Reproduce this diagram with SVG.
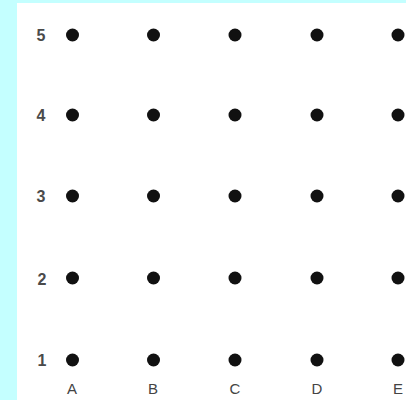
<svg xmlns="http://www.w3.org/2000/svg" width="406" height="400" viewBox="0 0 406 400">
<style>
.dot{fill:#111}
.row{font-family:"Liberation Sans",Arial,sans-serif;font-size:16px;font-weight:bold;fill:#4a4a4a;text-anchor:middle}
.col{font-family:"Liberation Sans",Arial,sans-serif;font-size:15px;fill:#444;text-anchor:middle}
</style>
<rect x="0" y="0" width="406" height="400" fill="#c4ffff"/>
<rect x="17" y="3" width="389" height="397" fill="#ffffff"/>
<g id="rowlabels">
<text class="row" x="41" y="41">5</text>
<text class="row" x="41" y="121">4</text>
<text class="row" x="41" y="202">3</text>
<text class="row" x="42" y="285">2</text>
<text class="row" x="42" y="366">1</text>
</g>
<g id="collabels">
<text class="col" x="72" y="394">A</text>
<text class="col" x="153" y="394">B</text>
<text class="col" x="235" y="394">C</text>
<text class="col" x="317" y="394">D</text>
<text class="col" x="398" y="394">E</text>
</g>
<g id="dots">
<g id="r5"><circle class="dot" cx="72.5" cy="35" r="6.5"/><circle class="dot" cx="153.5" cy="35" r="6.5"/><circle class="dot" cx="235" cy="35" r="6.5"/><circle class="dot" cx="317" cy="35" r="6.5"/><circle class="dot" cx="398" cy="35" r="6.5"/></g>
<g id="r4"><circle class="dot" cx="72.5" cy="115" r="6.5"/><circle class="dot" cx="153.5" cy="115" r="6.5"/><circle class="dot" cx="235" cy="115" r="6.5"/><circle class="dot" cx="317" cy="115" r="6.5"/><circle class="dot" cx="398" cy="115" r="6.5"/></g>
<g id="r3"><circle class="dot" cx="72.5" cy="196" r="6.5"/><circle class="dot" cx="153.5" cy="196" r="6.5"/><circle class="dot" cx="235" cy="196" r="6.5"/><circle class="dot" cx="317" cy="196" r="6.5"/><circle class="dot" cx="398" cy="196" r="6.5"/></g>
<g id="r2"><circle class="dot" cx="72.5" cy="278" r="6.5"/><circle class="dot" cx="153.5" cy="278" r="6.5"/><circle class="dot" cx="235" cy="278" r="6.5"/><circle class="dot" cx="317" cy="278" r="6.5"/><circle class="dot" cx="398" cy="278" r="6.5"/></g>
<g id="r1"><circle class="dot" cx="72.5" cy="360" r="6.5"/><circle class="dot" cx="153.5" cy="360" r="6.5"/><circle class="dot" cx="235" cy="360" r="6.5"/><circle class="dot" cx="317" cy="360" r="6.5"/><circle class="dot" cx="398" cy="360" r="6.5"/></g>
</g>
<g id="connectors"/>
</svg>
